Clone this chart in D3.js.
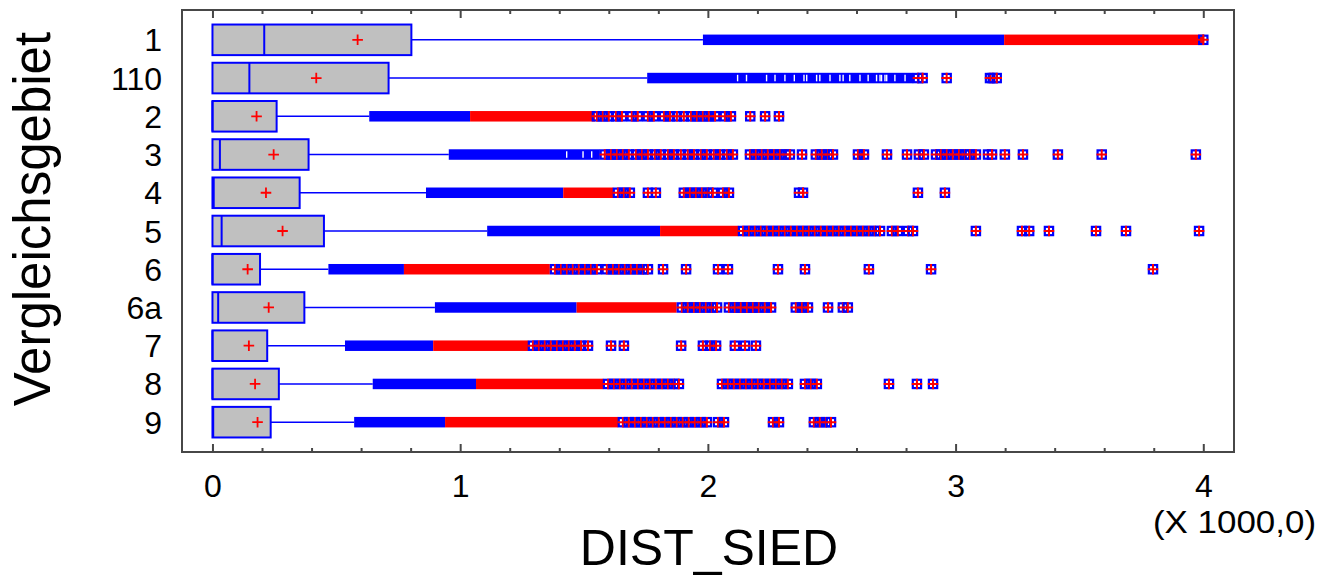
<!DOCTYPE html>
<html>
<head>
<meta charset="utf-8">
<script src="https://cdn.jsdelivr.net/npm/d3@7"></script>
<style>
  html, body { margin: 0; padding: 0; background: #fff; }
  svg { display: block; font-family: "Liberation Sans", Arial, sans-serif; }
</style>
</head>
<body>
<svg id="chart" width="1329" height="576"></svg>
<script>
// ---- Box-and-whisker summary of DIST_SIED per Vergleichsgebiet (metres) ----
const categories = ["1", "110", "2", "3", "4", "5", "6", "6a", "7", "8", "9"];
const lowerQuartile = [0, 0, 0, 0, 0, 0, 0, 0, 0, 0, 0];
const medians       = [209, 149, 0, 30, 5, 37, 0, 23, 0, 0, 3];
const upperQuartile = [803, 711, 259, 388, 352, 450, 192, 371, 221, 268, 235];
const means         = [586, 419, 178, 247, 216, 283, 142, 227, 147, 172, 182];
const whiskerEnds   = [1980, 1755, 633, 954, 862, 1109, 468, 898, 535, 647, 572];

// Stretches packed solid with "outside" points (beyond 1.5 IQR)
const outsideRuns = [
  [1980, 3196], [1755, 2829], [633, 1040], [954, 1564], [862, 1416], [1109, 1807],
  [468, 773], [898, 1470], [535, 891], [647, 1064], [572, 939]
];
// Small empty gaps inside those packed stretches
const outsideGaps = [
  [],
  [2120, 2156, 2237, 2271, 2311, 2349, 2388, 2399, 2439, 2452, 2493, 2533, 2546, 2573,
   2614, 2647, 2681, 2695, 2701, 2715, 2722, 2755, 2796],
  [], [1430, 1496, 1531], [], [], [], [], [], [], []
];
// Stretches packed solid with "far outside" points (beyond 3 IQR)
const farRuns = [
  [[3196, 4004]], [], [[1040, 1544]], [], [[1416, 1618]], [[1807, 2123]],
  [[773, 1362]], [[1470, 1874], [2101, 2198]], [[891, 1275]], [[1064, 1578]], [[939, 1638]]
];
// Individually visible far-outside points
const farPoints = [
  [4000],
  [2848, 2867, 2964, 3139, 3150, 3166],
  [1552, 1576, 1600, 1629, 1653, 1693, 1717, 1758, 1782, 1823, 1847, 1875, 1903, 1932,
   1956, 1980, 2004, 2029, 2069, 2093, 2171, 2231, 2287],
  [1584, 1609, 1633, 1657, 1681, 1710, 1734, 1758, 1786, 1810, 1839, 1863, 1891, 1919,
   1944, 1972, 1996, 2024, 2049, 2077, 2101, 2170, 2194, 2218, 2242, 2267, 2291, 2315,
   2331, 2380, 2436, 2460, 2485, 2505, 2606, 2630, 2723, 2804, 2852, 2872, 2921, 2941,
   2965, 2989, 3014, 3038, 3058, 3082, 3131, 3147, 3199, 3272, 3413, 3590, 3970],
  [1637, 1661, 1685, 1758, 1790, 1903, 1928, 1952, 1976, 2000, 2020, 2061, 2085, 2368,
   2384, 2848, 2957],
  [2142, 2166, 2190, 2214, 2238, 2263, 2287, 2311, 2335, 2360, 2384, 2408, 2432, 2456,
   2481, 2505, 2529, 2553, 2578, 2602, 2626, 2650, 2674, 2695, 2743, 2767, 2808, 2828,
   3082, 3268, 3297, 3377, 3567, 3688, 3983],
  [1383, 1407, 1431, 1455, 1479, 1504, 1528, 1552, 1592, 1617, 1641, 1665, 1689, 1714,
   1738, 1758, 1819, 1912, 2041, 2081, 2283, 2392, 2650, 2901, 3797],
  [1895, 1919, 1944, 1968, 1992, 2016, 2037, 2085, 2109, 2133, 2158, 2182, 2206, 2230,
   2255, 2355, 2380, 2404, 2485, 2545, 2565],
  [1294, 1318, 1342, 1366, 1391, 1415, 1439, 1463, 1488, 1516, 1609, 1661, 1892, 1980,
   2009, 2033, 2109, 2150, 2194],
  [1597, 1621, 1645, 1669, 1693, 1718, 1742, 1766, 1790, 1815, 1839, 1863, 1883, 2057,
   2081, 2105, 2130, 2154, 2178, 2202, 2226, 2251, 2275, 2299, 2323, 2392, 2416, 2440,
   2731, 2844, 2909],
  [1657, 1681, 1706, 1730, 1754, 1778, 1802, 1827, 1851, 1875, 1899, 1923, 1948, 1972,
   1996, 2041, 2065, 2263, 2287, 2428, 2452, 2477, 2497]
];

// Axis ticks (values in metres, labelled in thousands)
const majorTicks = [0, 1000, 2000, 3000, 4000];
const tickLabels = ["0", "1", "2", "3", "4"];
const minorTicks = [200, 400, 600, 800, 1200, 1400, 1600, 1800, 2200, 2400, 2600, 2800,
                    3200, 3400, 3600, 3800];
const xTitle = "DIST_SIED";
const yTitle = "Vergleichsgebiet";
const scaleNote = "(X 1000,0)";
const xDomain = [-123, 4124];

// ---- Layout ----
const frame = { left: 182, right: 1234, top: 10, bottom: 452 };
const BLUE = "#0000ff", RED = "#ff0000", AXIS = "#474747";

const svg = d3.select("#chart");
const x = d3.scaleLinear().domain(xDomain).range([frame.left, frame.right]);
const y = d3.scalePoint().domain(categories).range([frame.top, frame.bottom]).padding(0.78);
const boxH = y.step() * 0.8;
const markH = 10.5;

const rows = categories.map((c, i) => ({
  cat: c, q1: lowerQuartile[i], med: medians[i], q3: upperQuartile[i], mean: means[i],
  hi: whiskerEnds[i], out: outsideRuns[i], gaps: outsideGaps[i], far: farRuns[i],
  pts: farPoints[i]
}));

const plot = svg.append("g");

// whiskers
plot.selectAll("line.whisker").data(rows).join("line")
  .attr("class", "whisker")
  .attr("x1", d => x(d.q3)).attr("x2", d => x(d.hi))
  .attr("y1", d => y(d.cat)).attr("y2", d => y(d.cat))
  .attr("stroke", BLUE).attr("stroke-width", 1.5);

// boxes
plot.selectAll("rect.box").data(rows).join("rect")
  .attr("class", "box")
  .attr("x", d => x(d.q1)).attr("width", d => x(d.q3) - x(d.q1))
  .attr("y", d => y(d.cat) - boxH / 2).attr("height", boxH)
  .attr("fill", "#c0c0c0").attr("stroke", BLUE).attr("stroke-width", 2);

// medians
plot.selectAll("line.median").data(rows).join("line")
  .attr("class", "median")
  .attr("x1", d => x(d.med)).attr("x2", d => x(d.med))
  .attr("y1", d => y(d.cat) - boxH / 2).attr("y2", d => y(d.cat) + boxH / 2)
  .attr("stroke", BLUE).attr("stroke-width", 2);

// packed outside stretches
plot.selectAll("rect.outrun").data(rows).join("rect")
  .attr("class", "outrun")
  .attr("x", d => x(d.out[0])).attr("width", d => x(d.out[1]) - x(d.out[0]))
  .attr("y", d => y(d.cat) - markH / 2).attr("height", markH)
  .attr("fill", BLUE);

plot.selectAll("g.gaps").data(rows).join("g").attr("class", "gaps")
  .each(function (d) {
    d3.select(this).selectAll("line").data(d.gaps).join("line")
      .attr("x1", v => x(v)).attr("x2", v => x(v))
      .attr("y1", y(d.cat) - markH / 2 + 2).attr("y2", y(d.cat) + markH / 2 - 2)
      .attr("stroke", "#fff").attr("stroke-width", 1.4);
  });

// packed far-outside stretches
plot.selectAll("g.farruns").data(rows).join("g").attr("class", "farruns")
  .each(function (d) {
    d3.select(this).selectAll("rect").data(d.far).join("rect")
      .attr("x", r => x(r[0])).attr("width", r => x(r[1]) - x(r[0]))
      .attr("y", y(d.cat) - markH / 2).attr("height", markH)
      .attr("fill", RED);
  });

// individual far-outside points: blue square with red plus
const half = markH / 2;
plot.selectAll("g.pts").data(rows).join("g").attr("class", "pts")
  .each(function (d) {
    const cy = y(d.cat);
    const p = d3.select(this).selectAll("g").data(d.pts).join("g")
      .attr("transform", v => `translate(${x(v)},${cy})`);
    p.append("rect")
      .attr("x", -half + 1.1).attr("y", -half + 1.1)
      .attr("width", markH - 2.2).attr("height", markH - 2.2)
      .attr("fill", "none").attr("stroke", BLUE).attr("stroke-width", 2.2);
    p.append("path")
      .attr("d", `M${-half},0H${half}M0,${-half}V${half}`)
      .attr("stroke", RED).attr("stroke-width", 2).attr("fill", "none");
  });

// means
plot.selectAll("path.mean").data(rows).join("path")
  .attr("class", "mean")
  .attr("d", d => {
    const cx = x(d.mean), cy = y(d.cat);
    return `M${cx - 5.3},${cy}H${cx + 5.3}M${cx},${cy - 5.3}V${cy + 5.3}`;
  })
  .attr("stroke", RED).attr("stroke-width", 1.8).attr("fill", "none");

// ---- Frame and axes ----
svg.append("rect")
  .attr("x", frame.left).attr("y", frame.top)
  .attr("width", frame.right - frame.left).attr("height", frame.bottom - frame.top)
  .attr("fill", "none").attr("stroke", AXIS).attr("stroke-width", 2);

function styleAxis(g) {
  g.select(".domain").remove();
  g.selectAll(".tick line").attr("stroke", AXIS).attr("stroke-width", 2);
}

svg.append("g").attr("transform", `translate(0,${frame.bottom})`)
  .call(d3.axisBottom(x).tickValues(minorTicks).tickSize(-4).tickFormat(""))
  .call(styleAxis);
svg.append("g").attr("transform", `translate(0,${frame.top})`)
  .call(d3.axisTop(x).tickValues(minorTicks).tickSize(-4).tickFormat(""))
  .call(styleAxis);
svg.append("g").attr("transform", `translate(0,${frame.top})`)
  .call(d3.axisTop(x).tickValues(majorTicks).tickSize(-8).tickFormat(""))
  .call(styleAxis);

const bottomMajor = svg.append("g").attr("transform", `translate(0,${frame.bottom})`)
  .call(d3.axisBottom(x).tickValues(majorTicks).tickSize(-8)
    .tickFormat((d, i) => tickLabels[i]).tickPadding(22))
  .call(styleAxis);
bottomMajor.selectAll(".tick text")
  .attr("font-family", "'Liberation Sans', Arial, sans-serif")
  .attr("font-size", 32).attr("fill", "#000");

// category labels
svg.append("g").selectAll("text").data(categories).join("text")
  .attr("x", 162).attr("y", d => y(d)).attr("dy", "0.36em")
  .attr("text-anchor", "end").attr("font-size", 32).attr("fill", "#000")
  .text(d => d);

// titles
svg.append("text")
  .attr("x", (frame.left + frame.right) / 2 + 1).attr("y", 565)
  .attr("text-anchor", "middle").attr("font-size", 50).attr("fill", "#000")
  .text(xTitle);

svg.append("text")
  .attr("transform", "translate(50,219) rotate(-90)")
  .attr("text-anchor", "middle").attr("font-size", 51).attr("fill", "#000")
  .text(yTitle);

svg.append("text")
  .attr("x", 1316).attr("y", 533)
  .attr("text-anchor", "end").attr("font-size", 32).attr("fill", "#000")
  .attr("textLength", 163).attr("lengthAdjust", "spacingAndGlyphs")
  .text(scaleNote);
</script>
</body>
</html>
